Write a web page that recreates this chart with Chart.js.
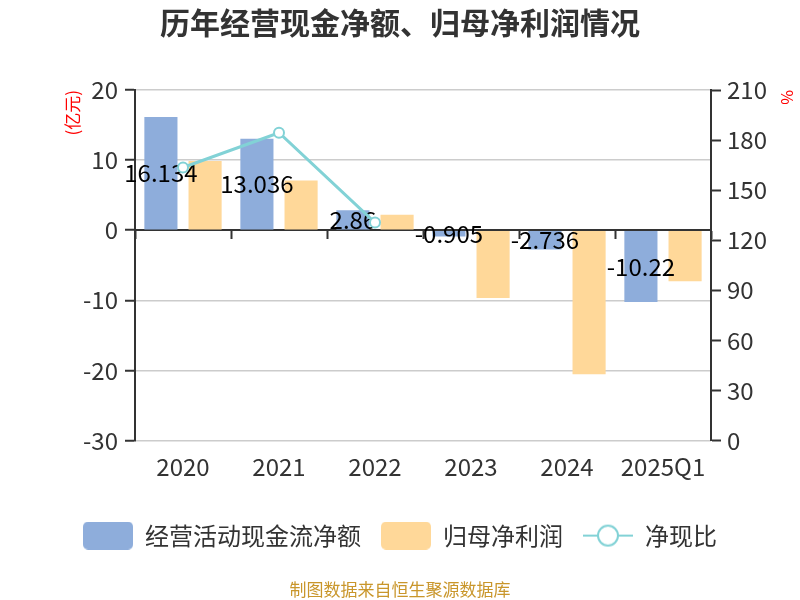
<!DOCTYPE html>
<html>
<head>
<meta charset="utf-8">
<script src="https://cdn.jsdelivr.net/npm/chart.js@4/dist/chart.umd.min.js"></script>
<style>
  html, body { margin: 0; padding: 0; background: #fff; }
  #wrap { width: 800px; height: 600px; }
</style>
</head>
<body>
<div id="wrap"><canvas id="chart" width="800" height="600"></canvas></div>
<script>
// 数据
const years = ["2020", "2021", "2022", "2023", "2024", "2025Q1"];
const cashFlow = [16.134, 13.036, 2.86, -0.905, -2.736, -10.22];
const netProfit = [9.86, 7.1, 2.2, -9.67, -20.55, -7.29];
const cashRatio = [163.6, 184.4, 130.6, null, null, null];
const leftTicks = { min: -30, max: 20, step: 10 };
const rightTicks = { min: 0, max: 210, step: 30 };

const FONT = "'Noto Sans CJK SC', 'Noto Sans', sans-serif";
const BLUE = "#8eaddb";
const ORANGE = "#ffd899";
const TEAL = "#82d2d6";

// 图例小图标
function makeBox(color) {
  const c = document.createElement("canvas");
  c.width = 50;
  c.height = 28;
  const ctx = c.getContext("2d");
  ctx.fillStyle = color;
  ctx.beginPath();
  ctx.roundRect(0, 0, 50, 28, 5);
  ctx.fill();
  return c;
}
function makeLineIcon(color) {
  const c = document.createElement("canvas");
  c.width = 50;
  c.height = 28;
  const ctx = c.getContext("2d");
  ctx.strokeStyle = color;
  ctx.lineWidth = 2;
  ctx.beginPath();
  ctx.moveTo(0, 14);
  ctx.lineTo(50, 14);
  ctx.stroke();
  ctx.fillStyle = "#fff";
  ctx.beginPath();
  ctx.arc(25, 14, 10, 0, Math.PI * 2);
  ctx.fill();
  ctx.stroke();
  return c;
}
const icons = [makeBox(BLUE), makeBox(ORANGE), makeLineIcon(TEAL)];

// 柱子中间的数值
const barLabels = {
  id: "barLabels",
  afterDatasetDraw(chart, args) {
    if (args.index !== 0) return;
    const ctx = chart.ctx;
    ctx.save();
    ctx.font = "24px " + FONT;
    ctx.fillStyle = "#000";
    ctx.textAlign = "center";
    ctx.textBaseline = "middle";
    args.meta.data.forEach((bar, i) => {
      ctx.fillText(String(cashFlow[i]), bar.x, (bar.y + bar.base) / 2);
    });
    ctx.restore();
  },
};

new Chart(document.getElementById("chart"), {
  type: "bar",
  data: {
    labels: years,
    datasets: [
      {
        label: "经营活动现金流净额",
        data: cashFlow,
        backgroundColor: BLUE,
        yAxisID: "y",
        order: 1,
        categoryPercentage: 0.92,
        barPercentage: 0.75,
      },
      {
        label: "归母净利润",
        data: netProfit,
        backgroundColor: ORANGE,
        yAxisID: "y",
        order: 2,
        categoryPercentage: 0.92,
        barPercentage: 0.75,
      },
      {
        type: "line",
        label: "净现比",
        data: cashRatio,
        yAxisID: "y1",
        order: 0,
        borderColor: TEAL,
        borderWidth: 3,
        pointRadius: 5,
        pointBorderWidth: 2,
        pointBackgroundColor: "#fff",
        pointBorderColor: TEAL,
        tension: 0,
      },
    ],
  },
  options: {
    responsive: false,
    animation: false,
    layout: { padding: 0 },
    plugins: {
      title: {
        display: true,
        text: "历年经营现金净额、归母净利润情况",
        color: "#333",
        font: { family: FONT, size: 30, weight: "bold" },
        padding: { top: 5, bottom: 49 },
      },
      subtitle: {
        display: true,
        position: "bottom",
        text: "制图数据来自恒生聚源数据库",
        color: "#c9962b",
        font: { family: FONT, size: 17 },
        padding: { top: 22, bottom: 0 },
      },
      legend: {
        position: "bottom",
        labels: {
          usePointStyle: true,
          pointStyleWidth: 50,
          padding: 20,
          color: "#333",
          font: { family: FONT, size: 24 },
          generateLabels(chart) {
            return chart.data.datasets.map((ds, i) => ({
              text: ds.label,
              pointStyle: icons[i],
              fillStyle: "transparent",
              strokeStyle: "transparent",
              lineWidth: 0,
              hidden: false,
              datasetIndex: i,
              fontColor: "#333",
            }));
          },
        },
      },
      tooltip: { enabled: false },
    },
    scales: {
      x: {
        type: "category",
        position: "bottom",
        offset: true,
        grid: { display: false },
        border: { display: false },
        ticks: {
          color: "#333",
          padding: 4,
          maxRotation: 0,
          font: { family: FONT, size: 24 },
        },
        afterFit(scale) {
          scale.height = 63;
        },
      },
      x2: {
        type: "category",
        position: { y: 0 },
        offset: true,
        grid: {
          offset: true,
          drawOnChartArea: false,
          tickLength: 8,
          tickColor: "#333",
          tickWidth: 2,
        },
        border: { color: "#333", width: 2 },
        ticks: { display: false },
      },
      y: {
        position: "left",
        min: leftTicks.min,
        max: leftTicks.max,
        ticks: {
          stepSize: leftTicks.step,
          color: "#333",
          padding: 7,
          font: { family: FONT, size: 24 },
        },
        grid: {
          color: "#cccccc",
          lineWidth: 1.5,
          tickLength: 10,
          tickColor: "#333",
          tickWidth: 2,
        },
        border: { color: "#333", width: 2 },
        title: {
          display: true,
          text: "(亿元)",
          align: "end",
          color: "#ff0000",
          font: { family: FONT, size: 17 },
          padding: { top: 62, bottom: 0 },
        },
        afterFit(scale) {
          scale.width = 135;
        },
      },
      y1: {
        position: "right",
        min: rightTicks.min,
        max: rightTicks.max,
        ticks: {
          stepSize: rightTicks.step,
          color: "#333",
          padding: 6,
          font: { family: FONT, size: 24 },
        },
        grid: {
          drawOnChartArea: false,
          tickLength: 10,
          tickColor: "#333",
          tickWidth: 2,
        },
        border: { color: "#333", width: 2 },
        title: {
          display: true,
          text: "%",
          align: "end",
          color: "#ff0000",
          font: { family: FONT, size: 16 },
          padding: { top: 3, bottom: 0 },
        },
        afterFit(scale) {
          scale.width = 89;
        },
      },
    },
  },
  plugins: [barLabels],
});
</script>
</body>
</html>
